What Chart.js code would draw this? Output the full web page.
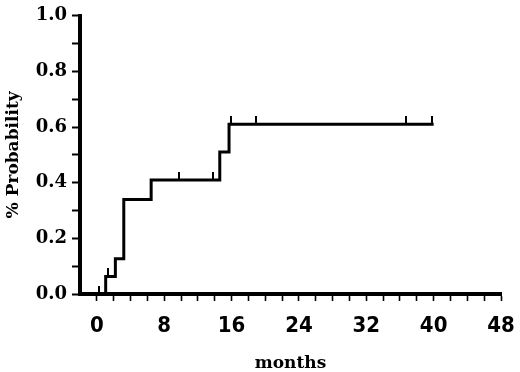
<!DOCTYPE html>
<html>
<head>
<meta charset="utf-8">
<script src="https://cdn.jsdelivr.net/npm/chart.js@4/dist/chart.umd.min.js"></script>
<style>
html,body{margin:0;padding:0;background:#fff;}
#wrap{width:520px;height:372px;position:relative;}
</style>
</head>
<body>
<div id="wrap"><canvas id="c" width="520" height="372"></canvas></div>
<script>
// Step curve: event times (months) and cumulative probability after each event
const stepMonths = [0, 1.05, 2.2, 3.2, 6.45, 14.6, 15.7, 40.0];
const stepProb   = [0, 0.063, 0.127, 0.34, 0.41, 0.51, 0.61, 0.61];
// Censored observations (months)
const censorMonths = [0.2, 1.3, 9.8, 13.8, 15.9, 18.9, 36.7, 39.8];
// Axis tick labels
const xLabels = [0, 8, 16, 24, 32, 40, 48];
const yLabels = [0.0, 0.2, 0.4, 0.6, 0.8, 1.0];

function probAt(t){
  let p = 0;
  for (let i = 0; i < stepMonths.length; i++) if (stepMonths[i] <= t) p = stepProb[i];
  return p;
}

const curve = stepMonths.map((m, i) => ({x: m, y: stepProb[i]}));
const censors = censorMonths.map(m => ({x: m, y: probAt(m)}));

// censor mark: short vertical tick above the curve
const mark = document.createElement('canvas');
mark.width = 2; mark.height = 16;
const mctx = mark.getContext('2d');
mctx.fillStyle = '#000';
mctx.fillRect(0, 0, 2, 8);

const serif = "'DejaVu Serif', 'Liberation Serif', serif";
const narrow = "'Liberation Sans Narrow', 'DejaVu Sans Condensed', 'Liberation Sans', sans-serif";

new Chart(document.getElementById('c'), {
  type: 'line',
  data: {
    datasets: [
      {
        data: curve,
        borderColor: '#000',
        borderWidth: 3,
        stepped: true,
        pointRadius: 0,
        fill: false
      },
      {
        data: censors,
        showLine: false,
        pointStyle: mark,
        pointRadius: 8,
        borderColor: '#000',
        backgroundColor: '#000'
      }
    ]
  },
  options: {
    responsive: false,
    animation: false,
    events: [],
    layout: {padding: {top: 14, right: 19, bottom: 0, left: 0}},
    plugins: {legend: {display: false}, tooltip: {enabled: false}},
    scales: {
      x: {
        type: 'linear',
        min: -2, max: 48,
        afterFit: s => { s.height = 78; s.paddingRight = 0; s.paddingLeft = 0; },
        border: {display: true, color: '#000', width: 4},
        grid: {
          drawOnChartArea: false,
          drawTicks: true,
          tickLength: 7,
          tickWidth: 1.6,
          color: ctx => (ctx.tick && ctx.tick.value < 0) ? 'rgba(0,0,0,0)' : '#000'
        },
        ticks: {
          stepSize: 2,
          autoSkip: false,
          maxRotation: 0,
          padding: 14,
          color: '#000',
          font: {family: narrow, size: 22, weight: 'bold', lineHeight: 1},
          callback: v => xLabels.includes(v) ? String(v) : ''
        },
        title: {
          display: true,
          text: 'months',
          color: '#000',
          font: {family: serif, size: 17, weight: 'bold', lineHeight: 1},
          padding: {top: 0, bottom: 0}
        }
      },
      y: {
        type: 'linear',
        min: 0, max: 1,
        afterFit: s => { s.width = 80; },
        border: {display: true, color: '#000', width: 4},
        grid: {
          drawOnChartArea: false,
          drawTicks: true,
          tickLength: 8,
          tickWidth: 2,
          color: '#000'
        },
        ticks: {
          stepSize: 0.1,
          autoSkip: false,
          padding: 5,
          color: '#000',
          font: {family: serif, size: 18, weight: 'bold', lineHeight: 1.2},
          callback: v => {
            const r = Math.round(v * 10) / 10;
            return yLabels.some(l => Math.abs(l - r) < 1e-9) ? r.toFixed(1) : '';
          }
        },
        title: {
          display: true,
          text: '% Probability',
          color: '#000',
          font: {family: serif, size: 17, weight: 'bold', lineHeight: 1.2},
          padding: {top: 3, bottom: 0}
        }
      }
    }
  }
});
</script>
</body>
</html>
